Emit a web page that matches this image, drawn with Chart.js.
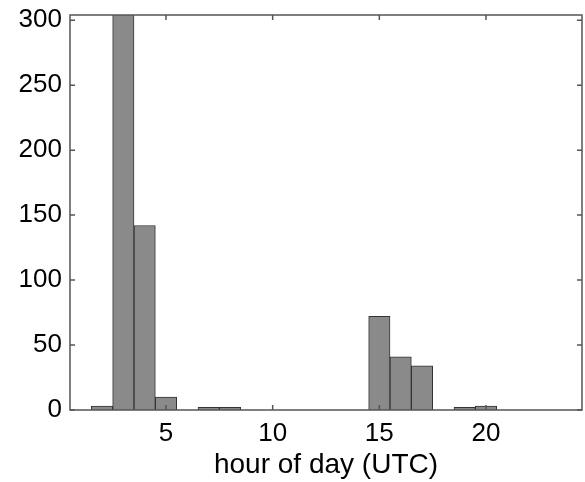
<!DOCTYPE html>
<html>
<head>
<meta charset="utf-8">
<script src="https://cdn.jsdelivr.net/npm/chart.js@4"></script>
<style>
  html, body { margin:0; padding:0; background:#fff; }
  #wrap { width:585px; height:482px; }
</style>
</head>
<body>
<div id="wrap"><canvas id="histChart" width="585" height="482"></canvas></div>
<script>
// histogram counts per hour of day (UTC)
const hours  = [2, 3,   4,   5,  7, 8, 15, 16, 17, 19, 20];
const counts = [3, 320, 142, 10, 2, 2, 72, 41, 34, 2,  3];
const xTicks = [5, 10, 15, 20];
const yTicks = [0, 50, 100, 150, 200, 250, 300];
const xLabel = 'hour of day (UTC)';

const FONT = { family: '"Liberation Sans", Arial, sans-serif', size: 26 };
const TITLE_FONT = { family: '"Liberation Sans", Arial, sans-serif', size: 28 };

// box round the axes and inward tick marks, MATLAB style
const boxPlugin = {
  id: 'box',
  afterDraw(chart){
    const { ctx, chartArea: a, scales } = chart;
    ctx.save();
    ctx.strokeStyle = '#555';
    ctx.lineWidth = 1.5;
    ctx.strokeRect(a.left, a.top, a.right - a.left, a.bottom - a.top);
    const len = 5;
    ctx.beginPath();
    xTicks.forEach(v => {
      const px = scales.x.getPixelForValue(v);
      ctx.moveTo(px, a.bottom); ctx.lineTo(px, a.bottom - len);
      ctx.moveTo(px, a.top); ctx.lineTo(px, a.top + len);
    });
    yTicks.forEach(v => {
      const py = scales.y.getPixelForValue(v);
      ctx.moveTo(a.left, py); ctx.lineTo(a.left + len, py);
      ctx.moveTo(a.right, py); ctx.lineTo(a.right - len, py);
    });
    ctx.stroke();
    ctx.restore();
  }
};

new Chart(document.getElementById('histChart'), {
  type: 'bar',
  data: {
    datasets: [{
      data: hours.map((h, i) => ({ x: h, y: counts[i] })),
      backgroundColor: '#8a8a8a',
      borderColor: '#333',
      borderWidth: 1,
      barPercentage: 1,
      categoryPercentage: 1
    }]
  },
  options: {
    responsive: false,
    animation: false,
    layout: { padding: { top: 15, right: 3, left: 0, bottom: 0 } },
    plugins: { legend: { display: false }, tooltip: { enabled: false } },
    scales: {
      x: {
        type: 'linear',
        min: 0.5,
        max: 24.5,
        offset: false,
        afterBuildTicks: s => { s.ticks = xTicks.map(v => ({ value: v })); },
        afterFit: s => { s.height = 72; s.paddingLeft = 0; s.paddingRight = 0; },
        grid: { display: false, drawTicks: false },
        border: { display: false },
        ticks: { color: '#000', font: FONT, padding: 8, maxRotation: 0 },
        title: { display: true, text: xLabel, color: '#000', font: TITLE_FONT, padding: { top: 2, bottom: 0 } }
      },
      y: {
        min: 0,
        max: 304,
        afterBuildTicks: s => { s.ticks = yTicks.map(v => ({ value: v })); },
        afterFit: s => { s.width = 70; s.paddingTop = 0; s.paddingBottom = 0; },
        grid: { display: false, drawTicks: false },
        border: { display: false },
        ticks: { color: '#000', font: FONT, padding: 8 }
      }
    }
  },
  plugins: [boxPlugin]
});
</script>
</body>
</html>
